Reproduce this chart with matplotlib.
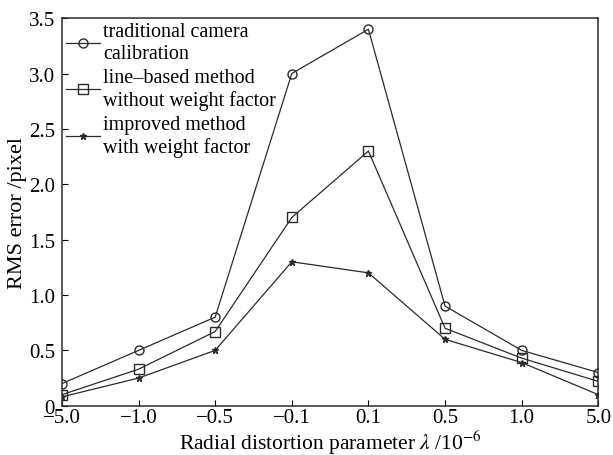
import matplotlib
matplotlib.use("Agg")
import matplotlib.pyplot as plt

lam_labels = ["\u22125.0", "\u22121.0", "\u22120.5", "\u22120.1", "0.1", "0.5", "1.0", "5.0"]
traditional = [0.2, 0.5, 0.8, 3.0, 3.4, 0.9, 0.5, 0.3]
line_based = [0.1, 0.33, 0.67, 1.7, 2.3, 0.7, 0.43, 0.22]
improved = [0.08, 0.25, 0.5, 1.3, 1.2, 0.6, 0.39, 0.1]
y_ticks = [0, 0.5, 1.0, 1.5, 2.0, 2.5, 3.0, 3.5]
y_labels = ["0", "0.5", "1.0", "1.5", "2.0", "2.5", "3.0", "3.5"]

plt.rcParams["font.family"] = ["Liberation Serif", "DejaVu Serif"]
plt.rcParams["mathtext.fontset"] = "stix"

fig, ax = plt.subplots(figsize=(6.13, 4.56), dpi=100)
fig.subplots_adjust(left=0.101, right=0.976, top=0.958, bottom=0.108)

x = range(len(lam_labels))
c = "#2b2b2b"
ax.plot(x, traditional, color=c, lw=0.9, marker="o", ms=6.5, mfc="none", mec=c,
        label="traditional camera\ncalibration")
ax.plot(x, line_based, color=c, lw=0.9, marker="s", ms=6.5, mfc="none", mec=c,
        label="line\u2013based method\nwithout weight factor")
ax.plot(x, improved, color=c, lw=0.9, marker="*", ms=5, mfc=c, mec=c,
        label="improved method\nwith weight factor")

ax.set_xlim(0, len(lam_labels) - 1)
ax.set_ylim(0, 3.5)
ax.set_xticks(list(x))
ax.set_xticklabels(lam_labels)
ax.set_yticks(y_ticks)
ax.set_yticklabels(y_labels)
ax.tick_params(direction="in", labelsize=15, length=4)
ax.tick_params(axis="x", pad=1.5)
ax.tick_params(axis="y", pad=5)
for s in ax.spines.values():
    s.set_linewidth(1.1)
    s.set_color(c)

ax.set_xlabel("Radial distortion parameter $\\lambda$ /10$^{-6}$", fontsize=15.5, labelpad=1)
ax.set_ylabel("RMS error /pixel", fontsize=16, labelpad=1)

ax.legend(loc="upper left", frameon=False, fontsize=14.5, handlelength=1.7,
          handletextpad=0.15, borderaxespad=0.1, labelspacing=0.25, borderpad=0.1)

fig.savefig("out.png", dpi=100)
